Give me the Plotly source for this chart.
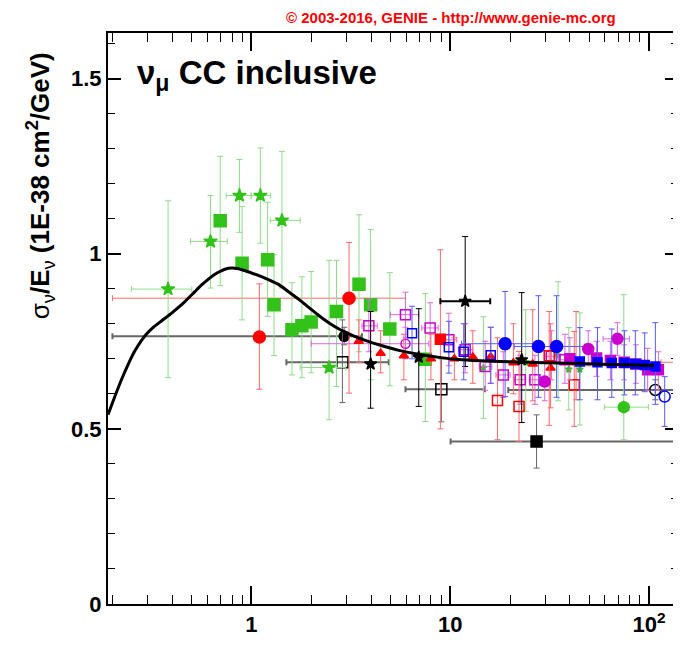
import numpy as np
import plotly.graph_objects as go

# ---------------- data ----------------
# GENIE prediction (black curve): energy [GeV], sigma/E [1E-38 cm2/GeV]
curve_E = [0.19, 0.205, 0.222, 0.24, 0.259, 0.278, 0.296, 0.32, 0.353, 0.40, 0.453, 0.518,
           0.56, 0.604, 0.65, 0.705, 0.75, 0.791, 0.85, 0.922, 1.0, 1.118, 1.25, 1.38, 1.55,
           1.74, 1.95, 2.19, 2.45, 2.76, 3.1, 3.47, 3.9, 4.38, 5.52, 6.95, 8.8, 11.5, 16.0,
           24.7, 35.0, 53.4, 75.0, 106.0]
curve_v = [0.54, 0.59, 0.64, 0.684, 0.722, 0.750, 0.770, 0.789, 0.808, 0.832, 0.858, 0.891,
           0.910, 0.926, 0.940, 0.951, 0.957, 0.959, 0.958, 0.952, 0.945, 0.935, 0.923, 0.911,
           0.890, 0.869, 0.846, 0.823, 0.803, 0.785, 0.771, 0.759, 0.749, 0.740, 0.724, 0.713,
           0.704, 0.697, 0.693, 0.690, 0.688, 0.685, 0.683, 0.681]

# green stars
gstar_E = [0.381, 0.623, 0.871, 1.11, 1.425, 2.46]
gstar_v = [0.899, 1.035, 1.166, 1.166, 1.095, 0.675]
gstar_vlo = [0.646, 0.902, 1.061, 1.030, 0.902, 0.526]
gstar_vhi = [1.151, 1.166, 1.269, 1.302, 1.292, 0.981]
gstar_Elo = [0.249, 0.494, 0.747, 1.0, 1.245, 1.76]
gstar_Ehi = [0.502, 0.756, 0.997, 1.25, 1.76, 2.98]

# green filled squares
gsq_E = [0.697, 0.898, 1.207, 1.30, 1.60, 1.795, 1.998, 2.68, 3.48, 3.98, 4.97, 7.5]
gsq_v = [1.094, 0.973, 0.983, 0.854, 0.783, 0.794, 0.805, 0.835, 0.913, 0.854, 0.785, 0.699]
gsq_vlo = [0.909, 0.811, 0.821, 0.709, 0.654, 0.646, 0.660, 0.621, 0.720, 0.640, 0.623, 0.521]
gsq_vhi = [1.278, 1.135, 1.147, 0.997, 0.917, 0.934, 0.949, 0.981, 1.111, 1.069, 0.946, 0.886]

# green small markers at high energy
gsm_E = [14.7, 24.0, 34.9, 39.5, 44.9]
gsm_v = [0.674, 0.69, 0.71, 0.67, 0.67]
gsm_vlo = [0.53, 0.55, 0.58, 0.554, 0.511]
gsm_vhi = [0.82, 0.84, 0.92, 0.789, 0.831]

# green filled circle
gcirc_E = [74.7]
gcirc_v = [0.562]
gcirc_vlo = [0.469]
gcirc_vhi = [0.883]
gcirc_Elo = [59.6]
gcirc_Ehi = [99.3]

# red filled circles
rcirc_E = [1.097, 3.10]
rcirc_v = [0.762, 0.873]
rcirc_vlo = [0.613, 0.602]
rcirc_vhi = [0.914, 1.032]
rcirc_Elo = [None, 0.2]
rcirc_Ehi = [None, 5.96]

# red filled square
rsq_E = [8.93]
rsq_v = [0.756]
rsq_vlo = [0.50]
rsq_vhi = [1.011]

# red triangles
rtri_E = [3.47, 4.47, 5.85, 8.0, 10.5, 13.0, 16.0, 20.8, 26.0, 32.0, 43.0]
rtri_v = [0.750, 0.716, 0.709, 0.700, 0.700, 0.705, 0.706, 0.689, 0.685, 0.674, 0.689]
rtri_vlo = [0.689, 0.66, 0.64, 0.64, 0.64, 0.63, 0.63, 0.60, 0.58, 0.56, 0.583]
rtri_vhi = [0.811, 0.78, 0.77, 0.77, 0.76, 0.78, 0.79, 0.80, 0.84, 0.80, 0.835]

# red open squares
rosq_E = [17.3, 22.2, 31.5, 42.1]
rosq_v = [0.581, 0.564, 0.709, 0.626]
rosq_vlo = [0.469, 0.464, 0.51, 0.507]
rosq_vhi = [0.76, 0.721, 0.835, 0.778]

# red point beyond right edge
rfar_E = [160]
rfar_v = [0.69]
rfar_vlo = [0.66]
rfar_vhi = [0.72]
rfar_Elo = [115]
rfar_Ehi = [230]

# black filled circle
kcirc_E = [2.93]
kcirc_v = [0.764]
kcirc_vlo = [0.74]
kcirc_vhi = [0.79]
kcirc_Elo = [0.2]
kcirc_Ehi = [3.6]

# black stars
kstar_E = [3.98, 6.95, 11.9, 22.9]
kstar_v = [0.685, 0.704, 0.864, 0.697]
kstar_vlo = [0.559, 0.564, 0.678, 0.518]
kstar_vhi = [0.835, 0.843, 1.049, 0.889]
kstar_Elo = [None, None, 8.93, None]
kstar_Ehi = [None, None, 15.9, None]

# black open squares
kosq_E = [2.87, 9.03]
kosq_v = [0.690, 0.613]
kosq_vlo = [0.575, 0.52]
kosq_vhi = [0.811, 0.70]
kosq_Elo = [1.50, 5.96]
kosq_Ehi = [4.91, 14.95]

# black filled square
ksq_E = [27.2]
ksq_v = [0.464]
ksq_vlo = [0.388]
ksq_vhi = [0.54]
ksq_Elo = [10.05]
ksq_Ehi = [250]

# black open circle
kocirc_E = [107.6]
kocirc_v = [0.611]
kocirc_vlo = [0.583]
kocirc_vhi = [0.64]
kocirc_Elo = [19.6]
kocirc_Ehi = [250]

# blue open circle
bocirc_E = [120]
bocirc_v = [0.592]
bocirc_vlo = [0.507]
bocirc_vhi = [0.649]

# blue open squares
bosq_E = [6.43, 9.85, 11.7, 16.0]
bosq_v = [0.773, 0.733, 0.72, 0.71]
bosq_vlo = [0.70, 0.659, 0.64, 0.63]
bosq_vhi = [0.85, 0.807, 0.80, 0.79]

# blue filled circles
bcirc_E = [18.9, 27.8, 34.3]
bcirc_v = [0.743, 0.735, 0.735]
bcirc_vlo = [0.592, 0.59, 0.59]
bcirc_vhi = [0.892, 0.88, 0.88]
bcirc_Elo = [11.4, 21.0, 29.0]
bcirc_Ehi = [27.0, 33.0, 47.5]

# blue filled squares
bsq_E = [44.9, 55.1, 65.0, 75.3, 85.4, 95.2, 107.7]
bsq_v = [0.692, 0.690, 0.688, 0.688, 0.685, 0.682, 0.678]
bsq_vlo = [0.583, 0.583, 0.59, 0.597, 0.597, 0.606, 0.57]
bsq_vhi = [0.789, 0.789, 0.785, 0.780, 0.780, 0.774, 0.803]

# magenta open squares
mosq_E = [3.9, 5.96, 7.93, 9.85, 11.9, 15.0, 18.5, 22.5, 26.7, 32.3, 37.8]
mosq_v = [0.794, 0.826, 0.788, 0.754, 0.726, 0.678, 0.654, 0.640, 0.640, 0.707, 0.697]
mosq_vlo = [0.72, 0.76, 0.71, 0.68, 0.66, 0.61, 0.59, 0.57, 0.57, 0.64, 0.63]
mosq_vhi = [0.87, 0.89, 0.86, 0.83, 0.80, 0.75, 0.72, 0.71, 0.71, 0.78, 0.77]
mosq_Elo = [3.6, 5.0, 7.2, 9.0, 11.0, 14.0, 17.0, 21.0, 25.0, 30.0, 35.0]
mosq_Ehi = [4.3, 6.95, 8.7, 10.8, 13.0, 16.2, 20.0, 24.0, 28.5, 35.0, 41.0]

# magenta open circle
mocirc_E = [5.96]
mocirc_v = [0.743]
mocirc_vlo = [0.70]
mocirc_vhi = [0.79]
mocirc_Elo = [2.0]
mocirc_Ehi = [7.8]

# magenta filled circles
mfc_E = [29.9, 49.5, 69.4]
mfc_v = [0.635, 0.728, 0.757]
mfc_vlo = [0.58, 0.68, 0.71]
mfc_vhi = [0.69, 0.78, 0.803]
mfc_Elo = [None, None, 58.8]
mfc_Ehi = [None, None, 79.7]

# magenta filled squares
mfsq_E = [40.0, 54.5, 64.0, 75.0, 86.0, 98.5, 111.5]
mfsq_v = [0.70, 0.702, 0.695, 0.69, 0.685, 0.669, 0.669]
mfsq_vlo = [0.64, 0.65, 0.64, 0.64, 0.63, 0.61, 0.61]
mfsq_vhi = [0.76, 0.75, 0.75, 0.74, 0.74, 0.73, 0.72]

# ---------------- styling ----------------
GREEN, GREEN_E = "#33c21a", "#8fdc8a"
RED, RED_E = "#ff0000", "#ff6a6a"
BLUE, BLUE_E = "#0000ff", "#5a5aff"
MAG, MAG_E = "#cc00cc", "#dd66dd"
BLACK, BLACK_E = "#000000", "#666666"
FONT = "Liberation Sans, Arial, Helvetica, sans-serif"

# the page body has an 8px margin: the figure is sized/margined so that the
# plot frame lands at page x 108..680, y 33..604
L, T, PW, PH = 100, 25, 572, 571
FW, FH = 673, 639

fig = go.Figure()


def add_series(E, v, vlo, vhi, symbol, size, color, ecolor, Elo=None, Ehi=None,
               ethick=1, xthick=None, lw=1.5):
    eplus = [h - c for c, h in zip(v, vhi)]
    eminus = [c - l for c, l in zip(v, vlo)]
    tr = dict(
        x=E, y=v, mode="markers", showlegend=False, hoverinfo="skip",
        marker=dict(symbol=symbol, size=size, color=color,
                    line=dict(color=color, width=lw)),
        error_y=dict(type="data", symmetric=False, array=eplus, arrayminus=eminus,
                     color=ecolor, thickness=ethick, width=3),
    )
    if Elo is not None:
        xp = [None if h is None else h - c for c, h in zip(E, Ehi)]
        xm = [None if l is None else c - l for c, l in zip(E, Elo)]
        tr["error_x"] = dict(type="data", symmetric=False, array=xp, arrayminus=xm,
                             color=ecolor, thickness=xthick or ethick, width=3)
    fig.add_trace(go.Scatter(**tr))


# black wide bars in the background
add_series(kcirc_E, kcirc_v, kcirc_vlo, kcirc_vhi, "circle", 10, BLACK, BLACK_E,
           kcirc_Elo, kcirc_Ehi, xthick=2)
add_series(ksq_E, ksq_v, ksq_vlo, ksq_vhi, "square", 11, BLACK, BLACK_E,
           ksq_Elo, ksq_Ehi, xthick=2)
add_series(kocirc_E, kocirc_v, kocirc_vlo, kocirc_vhi, "circle-open", 11, BLACK, BLACK_E,
           kocirc_Elo, kocirc_Ehi, xthick=2)
add_series(kosq_E, kosq_v, kosq_vlo, kosq_vhi, "square-open", 11, BLACK, BLACK_E,
           kosq_Elo, kosq_Ehi, xthick=2)
# red wide bars
add_series(rcirc_E, rcirc_v, rcirc_vlo, rcirc_vhi, "circle", 12, RED, RED_E,
           rcirc_Elo, rcirc_Ehi)
add_series(rfar_E, rfar_v, rfar_vlo, rfar_vhi, "triangle-up", 8, RED, RED_E,
           rfar_Elo, rfar_Ehi)
# green
add_series(gstar_E, gstar_v, gstar_vlo, gstar_vhi, "star", 10, GREEN, GREEN_E,
           gstar_Elo, gstar_Ehi)
add_series(gsq_E, gsq_v, gsq_vlo, gsq_vhi, "square", 12, GREEN, GREEN_E)
add_series(gsm_E, gsm_v, gsm_vlo, gsm_vhi, "star", 5, GREEN, GREEN_E)
add_series(gcirc_E, gcirc_v, gcirc_vlo, gcirc_vhi, "circle", 11, GREEN, GREEN_E,
           gcirc_Elo, gcirc_Ehi)
# magenta
add_series(mocirc_E, mocirc_v, mocirc_vlo, mocirc_vhi, "circle-open", 9, MAG, MAG_E,
           mocirc_Elo, mocirc_Ehi)
add_series(mosq_E, mosq_v, mosq_vlo, mosq_vhi, "square-open", 10, MAG, MAG_E,
           mosq_Elo, mosq_Ehi)
# red others
add_series(rtri_E, rtri_v, rtri_vlo, rtri_vhi, "triangle-up", 8, RED, RED_E)
add_series(rosq_E, rosq_v, rosq_vlo, rosq_vhi, "square-open", 10, RED, RED_E)
add_series(rsq_E, rsq_v, rsq_vlo, rsq_vhi, "square", 10, RED, RED_E)
# black stars
add_series(kstar_E, kstar_v, kstar_vlo, kstar_vhi, "star", 9, BLACK, BLACK,
           kstar_Elo, kstar_Ehi, xthick=2)
# blue
add_series(bosq_E, bosq_v, bosq_vlo, bosq_vhi, "square-open", 9, BLUE, BLUE_E)
add_series(bcirc_E, bcirc_v, bcirc_vlo, bcirc_vhi, "circle", 12, BLUE, BLUE_E,
           bcirc_Elo, bcirc_Ehi)
add_series(bocirc_E, bocirc_v, bocirc_vlo, bocirc_vhi, "circle-open", 11, BLUE, BLUE_E)
# magenta filled
add_series(mfc_E, mfc_v, mfc_vlo, mfc_vhi, "circle", 11, MAG, MAG_E, mfc_Elo, mfc_Ehi)
add_series(mfsq_E, mfsq_v, mfsq_vlo, mfsq_vhi, "square", 10, MAG, MAG_E)
add_series(bsq_E, bsq_v, bsq_vlo, bsq_vhi, "square", 9, BLUE, BLUE_E)

# GENIE curve on top
fig.add_trace(go.Scatter(x=curve_E, y=curve_v, mode="lines", showlegend=False,
                         hoverinfo="skip", line=dict(color="black", width=3,
                                                     shape="spline", smoothing=0.5)))

minor_x = [m * 10.0 ** d for d in (-1, 0, 1, 2) for m in range(2, 10)]
minor_x = [t for t in minor_x if 0.19 <= t <= 140]


def px(xp):
    return (xp - 108) / PW


def py(yp):
    return (604 - yp) / PH


fig.update_layout(
    width=FW, height=FH,
    margin=dict(l=L, r=FW - L - PW, t=T, b=FH - T - PH, pad=0),
    paper_bgcolor="white", plot_bgcolor="white",
    font=dict(family=FONT, color="black"),
    xaxis=dict(
        type="log", range=[np.log10(0.19), np.log10(140)],
        tickmode="array", tickvals=[1, 10, 100], ticktext=["1", "10", "10<sup>2</sup>"],
        ticks="inside", ticklen=18, tickwidth=1.5, tickcolor="black",
        showline=True, linewidth=2, linecolor="black", mirror="ticks",
        showgrid=False, zeroline=False,
        tickfont=dict(family=FONT, size=22, weight="bold"),
        minor=dict(tickmode="array", tickvals=minor_x, ticks="inside", ticklen=9,
                   tickwidth=1.2, tickcolor="black", showgrid=False),
    ),
    yaxis=dict(
        range=[0, 1.63],
        tickmode="array", tickvals=[0, 0.5, 1, 1.5], ticktext=["0", "0.5", "1", "1.5"],
        ticks="inside", ticklen=13, tickwidth=1.5, tickcolor="black",
        showline=True, linewidth=2, linecolor="black", mirror="ticks",
        showgrid=False, zeroline=False,
        tickfont=dict(family=FONT, size=22, weight="bold"),
        minor=dict(dtick=0.1, ticks="inside", ticklen=7, tickwidth=1.2,
                   tickcolor="black", showgrid=False),
    ),
    annotations=[
        dict(text="<b>© 2003-2016, GENIE - http://www.genie-mc.org</b>",
             xref="paper", yref="paper", x=px(452), y=py(17),
             xanchor="center", yanchor="middle", showarrow=False,
             font=dict(family=FONT, size=15, color="#ff0000")),
        dict(text="<b>ν<sub>μ</sub> CC inclusive</b>",
             xref="paper", yref="paper", x=px(135), y=py(75),
             xanchor="left", yanchor="middle", showarrow=False,
             font=dict(family=FONT, size=33, color="black")),
        dict(text="σ<sub>ν</sub><b>/E</b><sub>ν</sub><b> (1E-38 cm<sup>2</sup>/GeV)</b>",
             xref="paper", yref="paper", x=px(40), y=py(186),
             xanchor="center", yanchor="middle", showarrow=False, textangle=-90,
             font=dict(family=FONT, size=26, color="black")),
    ],
)

fig.write_html("out.html")
